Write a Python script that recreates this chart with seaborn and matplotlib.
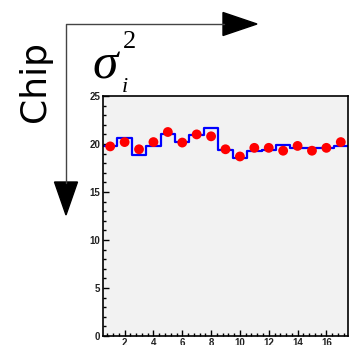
import numpy as np
import seaborn as sns
import matplotlib.pyplot as plt
from matplotlib.lines import Line2D
from matplotlib.patches import Polygon
from matplotlib.ticker import MultipleLocator

sns.set_style("ticks")

# channel number and the two series
channels = np.arange(1, 18)
sigma_hist = [19.8, 20.65, 18.9, 19.75, 21.05, 20.25, 20.95, 21.7, 19.4,
              18.5, 19.25, 19.35, 19.85, 19.6, 19.6, 19.6, 19.75]
sigma_pts = [19.75, 20.2, 19.45, 20.2, 21.25, 20.15, 21.0, 20.8, 19.45,
             18.7, 19.6, 19.6, 19.3, 19.8, 19.3, 19.6, 20.2]

W, H = 351, 345
fig = plt.figure(figsize=(W / 100, H / 100), dpi=100)
ax = fig.add_axes([103 / W, 1 - 336 / H, 245 / W, 240 / H])
ax.set_facecolor("#f2f2f2")

# blue step histogram
sns.histplot(x=channels, weights=sigma_hist, discrete=True, element="step",
             fill=False, color="blue", linewidth=1.6, ax=ax)
# red points
sns.scatterplot(x=channels, y=sigma_pts, color="red", marker="o", s=50,
                edgecolor="none", zorder=3, ax=ax)

ax.set_xlim(0.5, 17.5)
ax.set_ylim(0, 25)
ax.set_xlabel("")
ax.set_ylabel("")
ax.xaxis.set_major_locator(MultipleLocator(2))
ax.xaxis.set_minor_locator(MultipleLocator(0.4))
ax.yaxis.set_major_locator(MultipleLocator(5))
ax.yaxis.set_minor_locator(MultipleLocator(1))
ax.tick_params(which="both", direction="in", color="black", width=1.0)
ax.tick_params(which="major", length=4)
ax.tick_params(which="minor", length=2.2)
ax.tick_params(axis="x", pad=1.5)
ax.tick_params(axis="y", pad=2)
for lab in ax.get_xticklabels() + ax.get_yticklabels():
    lab.set_fontsize(7)
    lab.set_fontweight("bold")
    lab.set_color("#222222")
    lab.set_family("Liberation Sans")
for sp in ax.spines.values():
    sp.set_color("black")
    sp.set_linewidth(1.2)

# decorations in figure pixels (y measured from the top)
def px(x, y):
    return (x / W, 1 - y / H)

tr = fig.transFigure
xs, ys = zip(px(224, 24), px(66, 24), px(66, 183))
fig.add_artist(Line2D(xs, ys, transform=tr, color="#444444", lw=1.0))
fig.add_artist(Polygon([px(223, 12.5), px(257, 24), px(223, 35.5)],
                       closed=True, transform=tr, color="black"))
fig.add_artist(Polygon([px(54.5, 182), px(77.5, 182), px(66, 215)],
                       closed=True, transform=tr, color="black"))

fig.text(*px(35, 82), "Chip", rotation=90, fontsize=26, family="DejaVu Sans",
         color="black", ha="center", va="center")
fig.text(*px(105, 66), "σ", fontsize=37, family="Liberation Serif",
         style="italic", color="black", ha="center", va="center")
fig.text(*px(129, 42), "2", fontsize=19, family="Liberation Serif",
         color="black", ha="center", va="center")
fig.text(*px(125, 87), "i", fontsize=16, family="Liberation Serif",
         style="italic", color="black", ha="center", va="center")

fig.savefig("out.png", dpi=100)
